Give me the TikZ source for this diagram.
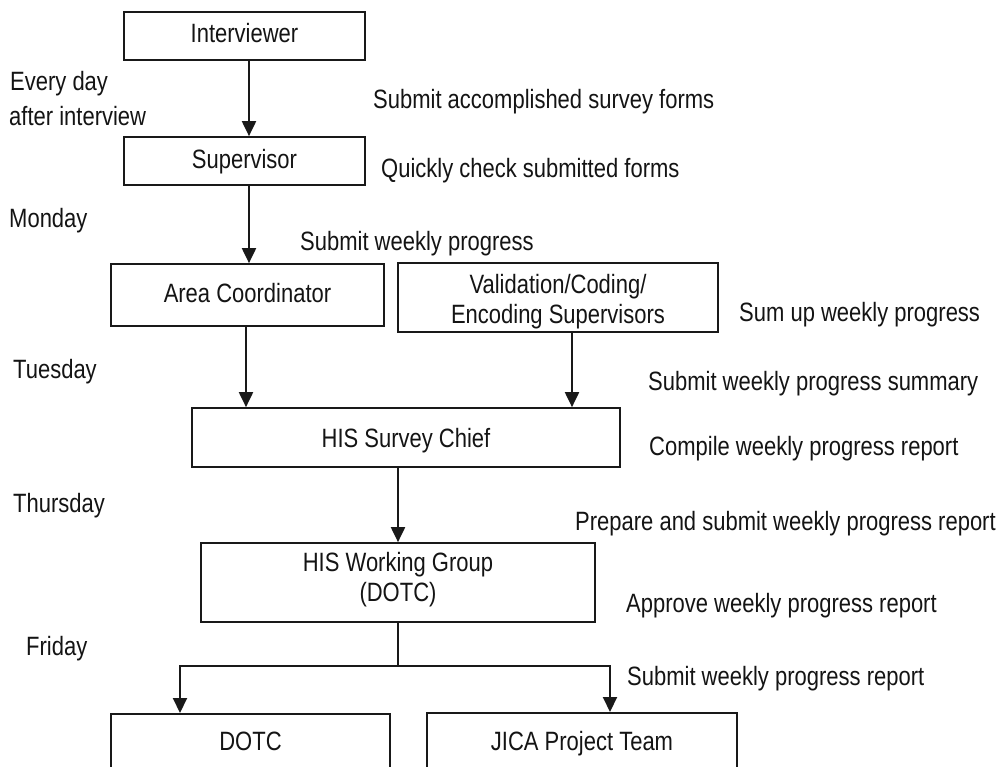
\documentclass[tikz,border=0pt]{standalone}
\usepackage{fontspec}
\setmainfont{Liberation Sans}[FakeStretch=0.83]
\usetikzlibrary{arrows.meta}

\begin{document}
\begin{tikzpicture}[
  x=1bp, y=-1bp,
  font=\fontsize{26.5bp}{30bp}\selectfont,
  every node/.style={text=black!92},
  box/.style={draw=black!90, line width=1.7bp, inner sep=0pt, align=center},
  lab/.style={anchor=base west, inner sep=0pt},
  arr/.style={draw=black!90, line width=2bp, -{Triangle[length=15bp,width=14bp]}},
  wire/.style={draw=black!90, line width=2bp},
]
\useasboundingbox (0,0) rectangle (996,767);
\clip (0,0) rectangle (996,767);

% boxes
\node[box, minimum width=241bp, minimum height=48bp, text height=19bp, text depth=5bp]
  (int) at (244.5,36) {Interviewer};
\node[box, minimum width=241bp, minimum height=48bp, text height=19bp, text depth=5bp]
  (sup) at (244.5,161) {Supervisor};
\node[box, minimum width=273bp, minimum height=62bp, text height=19bp, text depth=5bp]
  (ac) at (247.5,295) {Area Coordinator};
\node[box, minimum width=320bp, minimum height=69bp, text height=55.5bp, text depth=4.5bp]
  (val) at (558,297.5) {Validation/Coding/\\Encoding Supervisors};
\node[box, minimum width=428bp, minimum height=59bp, text height=21.5bp, text depth=2.5bp]
  (chief) at (406,437.5) {HIS Survey Chief};
\node[box, minimum width=394bp, minimum height=79bp, text height=48.5bp, text depth=11.5bp]
  (wg) at (398,582.5) {HIS Working Group\\(DOTC)};
\node[box, anchor=north, minimum width=279bp, minimum height=0pt, text height=37bp, text depth=50bp]
  (dotc) at (250.5,713) {DOTC};
\node[box, anchor=north, minimum width=310bp, minimum height=0pt, text height=38bp, text depth=50bp]
  (jica) at (582,712) {JICA Project Team};

% connectors
\draw[arr] ([xshift=4.5bp]int.south) -- ([xshift=4.5bp]sup.north);
\draw[arr] ([xshift=4.5bp]sup.south) -- ([xshift=4.5bp]sup.south |- ac.north);
\draw[arr] ([xshift=-1.5bp]ac.south) -- ([xshift=-1.5bp]ac.south |- chief.north);
\draw[arr] ([xshift=14bp]val.south) -- ([xshift=14bp]val.south |- chief.north);
\draw[arr] (wg.north |- chief.south) -- (wg.north);
\coordinate (fork) at (398,666);
\draw[wire] (wg.south) -- (fork);
\draw[arr] (fork) -| ([xshift=-70.5bp]dotc.north);
\draw[arr] (fork) -| ([xshift=28bp]jica.north);

% timing labels
\node[lab] (t1a) at (10,91) {Every day};
\node[lab] (t1b) at (9,125) {after interview};
\node[lab] (t2) at (9,227) {Monday};
\node[lab] (t3) at (13,378) {Tuesday};
\node[lab] (t4) at (13,512) {Thursday};
\node[lab] (t5) at (26,655) {Friday};

% activity labels
\node[lab] (a1) at (373,108) {Submit accomplished survey forms};
\node[lab] (a2) at (381,177) {Quickly check submitted forms};
\node[lab] (a3) at (300,250) {Submit weekly progress};
\node[lab] (a4) at (739,321) {Sum up weekly progress};
\node[lab] (a5) at (648,390) {Submit weekly progress summary};
\node[lab] (a6) at (649,455) {Compile weekly progress report};
\node[lab] (a7) at (575,530) {Prepare and submit weekly progress report};
\node[lab] (a8) at (626,612) {Approve weekly progress report};
\node[lab] (a9) at (627,685) {Submit weekly progress report};
\end{tikzpicture}
\end{document}
